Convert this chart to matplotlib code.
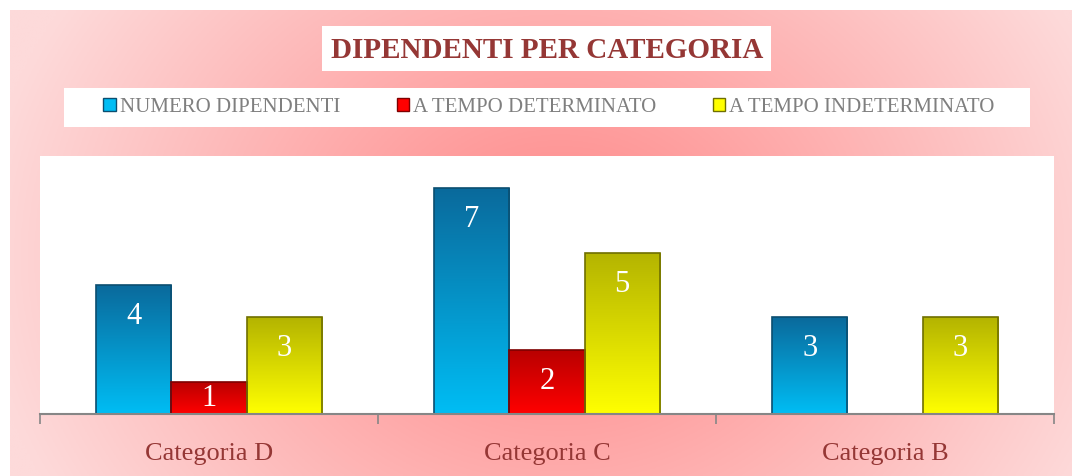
import numpy as np
import matplotlib.pyplot as plt
from matplotlib.colors import to_rgb
from matplotlib.patches import Rectangle, Patch

# data
categorie = ['Categoria D', 'Categoria C', 'Categoria B']
serie = ['NUMERO DIPENDENTI', 'A TEMPO DETERMINATO', 'A TEMPO INDETERMINATO']
numero_dipendenti = [4, 7, 3]
tempo_determinato = [1, 2, 0]
tempo_indeterminato = [3, 5, 3]

# colours (top, bottom, edge)
colori = [('#0a6a9c', '#00bdf4', '#0b4e70'),
          ('#b80000', '#ff0000', '#7e0000'),
          ('#b4b400', '#ffff00', '#6f6f00')]

W, H = 1072, 477
fig = plt.figure(figsize=(W / 100, H / 100), dpi=100)
fig.patch.set_facecolor('white')

# pink background, darker in the middle
bg = fig.add_axes([10 / W, 0, (W - 10) / W, (H - 11) / H], zorder=0)
px, py = np.meshgrid(np.linspace(10, W, 400), np.linspace(H, 11, 200))
d = np.sqrt(((px - 560) / 600) ** 2 + ((py - 230) / 500) ** 2)
d = np.clip((d - 0.12) / 0.85, 0, 1)
light = np.array(to_rgb('#fddada'))
dark = np.array(to_rgb('#ff9090'))
img = dark[None, None, :] * (1 - d[..., None]) + light[None, None, :] * d[..., None]
bg.imshow(img, aspect='auto', extent=[0, 1, 0, 1], origin='upper')
bg.set_axis_off()

# title box
fig.patches.append(Rectangle((322 / W, 1 - 72 / H), (771 - 322) / W, 45 / H,
                             transform=fig.transFigure, fc='white', ec='none', zorder=1))
fig.text(547 / W, 1 - 50 / H, 'DIPENDENTI PER CATEGORIA', ha='center', va='center',
         fontsize=21, fontweight='bold', family='Liberation Serif', color='#953735', zorder=5)

# legend box
fig.patches.append(Rectangle((64 / W, 1 - 128 / H), (1030 - 64) / W, 39 / H,
                             transform=fig.transFigure, fc='white', ec='none', zorder=1))
handles = [Patch(facecolor=c[1], edgecolor=c[2]) for c in colori]
fig.legend(handles, serie, loc='center', bbox_to_anchor=(549 / W, 1 - 108 / H), ncol=3,
           frameon=False, handlelength=0.6, handleheight=0.6, handletextpad=0.2,
           columnspacing=2.7, prop={'family': 'Liberation Serif', 'size': 15},
           labelcolor='#7f7f7f')

ax = fig.add_axes([40 / W, 1 - 415 / H, (1054 - 40) / W, (415 - 157) / H], zorder=2)
ax.set_facecolor('white')
x = np.arange(len(categorie))
w = 0.222
grad = np.linspace(1, 0, 100)[:, None]

for k, valori in enumerate([numero_dipendenti, tempo_determinato, tempo_indeterminato]):
    top, bottom, edge = colori[k]
    bars = ax.bar(x + (k - 1) * w, valori, w, color=bottom, linewidth=0, zorder=3)
    t = np.array(to_rgb(top))
    b = np.array(to_rgb(bottom))
    g = t[None, None, :] * grad[..., None] + b[None, None, :] * (1 - grad[..., None])
    for bar, v in zip(bars, valori):
        if v == 0:
            continue
        x0, y0 = bar.get_x(), bar.get_y()
        im = ax.imshow(g, aspect='auto', origin='upper', zorder=3.5,
                       extent=[x0, x0 + bar.get_width(), y0, y0 + bar.get_height()])
        im.set_clip_path(bar)
        ax.add_patch(Rectangle((x0, y0), bar.get_width(), bar.get_height(), fill=False,
                               ec=edge, lw=1.2, zorder=4))
        ax.text(x0 + bar.get_width() / 2, max(v / 2, v - 0.95), str(v), ha='center',
                va='center', color='white', fontsize=22, family='Liberation Serif', zorder=5)

ax.set_xlim(-0.5, 2.5)
ax.set_ylim(0, 8)
ax.set_yticks([])
ax.set_xticks(x)
ax.set_xticklabels(categorie, fontsize=19, family='Liberation Serif', color='#953735')
ax.set_xticks([-0.5, 0.5, 1.5, 2.5], minor=True)
ax.tick_params(axis='x', which='major', length=0, pad=20)
ax.tick_params(axis='x', which='minor', length=7, color='#868686', width=1.2)
for s in ['top', 'right', 'left']:
    ax.spines[s].set_visible(False)
ax.spines['bottom'].set_color('#868686')
ax.spines['bottom'].set_linewidth(1.5)
ax.spines['bottom'].set_zorder(6)

fig.savefig('out.png', dpi=100)
